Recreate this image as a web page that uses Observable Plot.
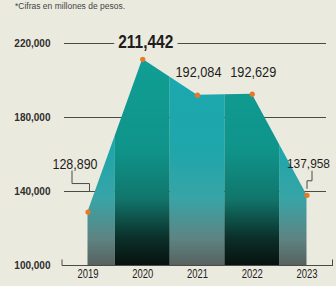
<!DOCTYPE html>
<html><head><meta charset="utf-8">
<script src="https://cdn.jsdelivr.net/npm/d3@7"></script>
<script src="https://cdn.jsdelivr.net/npm/@observablehq/plot@0.6"></script>
<style>
html,body{margin:0;padding:0;background:#ebeadf;}
#wrap{width:336px;height:286px;overflow:hidden;position:relative;}
#sub{height:12px;font:8.5px "Liberation Sans",Arial,sans-serif;color:#444;padding-left:15px;line-height:12px;white-space:nowrap;}
</style></head><body>
<div id="wrap"><div id="sub"></div><div id="chart"></div></div>
<script>
// ---- data ----
const years = [2019, 2020, 2021, 2022, 2023];
const values = [128890, 211442, 192084, 192629, 137958];
const valueLabels = ["128,890", "211,442", "192,084", "192,629", "137,958"];
const yTicks = [100000, 140000, 180000, 220000];
const subtitle = "*Cifras en millones de pesos.";

// ---- styling ----
const BG = "#ebeadf";
const FONT = '"Liberation Sans",Arial,sans-serif';
const labelStyle = {
  2019: {dx: -13, dy: -48, fontSize: 15, fontWeight: "normal", width: 45, anchor: "middle"},
  2020: {dx: 3, dy: -17, fontSize: 18, fontWeight: "bold", width: 55, anchor: "middle"},
  2021: {dx: 1, dy: -23, fontSize: 15, fontWeight: "normal", width: 46, anchor: "middle"},
  2022: {dx: 1, dy: -22, fontSize: 15, fontWeight: "normal", width: 46, anchor: "middle"},
  2023: {dx: 23, dy: -32, fontSize: 13.5, fontWeight: "normal", width: 43, anchor: "end"}
};

document.getElementById("sub").textContent = subtitle;
const rows = years.map((year, i) => ({year, value: values[i], label: valueLabels[i], i}));
const yMin = yTicks[0], yMax = yTicks[yTicks.length - 1];

const labelMarks = rows.map(r => Plot.text([r], {
  x: "year", y: "value", text: "label",
  dx: labelStyle[r.year].dx, dy: labelStyle[r.year].dy, textAnchor: labelStyle[r.year].anchor,
  fontSize: labelStyle[r.year].fontSize, fontWeight: labelStyle[r.year].fontWeight,
  fill: "#1d1d1b", fontFamily: FONT,
  stroke: r.year === 2020 ? BG : "none", strokeWidth: r.year === 2020 ? 12 : 0
}));

const chart = Plot.plot({
  width: 336, height: 274,
  marginTop: 31, marginBottom: 21, marginLeft: 64, marginRight: 10,
  style: {background: "transparent", fontFamily: FONT, color: "#333"},
  x: {domain: [years[0], years[years.length - 1]], insetLeft: 23.5, insetRight: 19.5},
  y: {domain: [yMin, yMax]},
  marks: [
    Plot.ruleY(yTicks.slice(1), {stroke: "#4a4a46", strokeWidth: 1}),
    Plot.ruleY([yMin], {stroke: "#4a4a46", strokeWidth: 1, insetLeft: -2, insetRight: -7}),
    Plot.rect(rows.filter(r => r.i % 2 === 0), {x1: d => d.year - 0.5, x2: d => d.year + 0.5, y1: yMin, y2: yMax, fill: "url(#gLight)"}),
    Plot.rect(rows.filter(r => r.i % 2 === 1), {x1: d => d.year - 0.5, x2: d => d.year + 0.5, y1: yMin, y2: yMax, fill: "url(#gDark)"}),
    Plot.areaY(rows, {x: "year", y1: yMin, y2: "value", fill: "#000", fillOpacity: 0}),
    Plot.dot(rows, {x: "year", y: "value", r: 2.6, fill: "#e8782a"}),
    Plot.axisY(yTicks, {tickSize: 0, tickPadding: 14, tickFormat: d3.format(","), fontSize: 10, fontWeight: "bold", fontFamily: FONT, fill: "#2e2e2c", label: null}),
    Plot.axisX(years, {tickSize: 0, tickPadding: 3, tickFormat: d => String(d), fontSize: 13.5, fontFamily: FONT, fill: "#222", label: null}),
    ...labelMarks
  ]
});
document.getElementById("chart").appendChild(chart);

const NS = "http://www.w3.org/2000/svg";
const svg = chart.tagName.toLowerCase() === "svg" ? chart : chart.querySelector("svg");
const defs = document.createElementNS(NS, "defs");
function grad(id, stops) {
  const g = document.createElementNS(NS, "linearGradient");
  g.setAttribute("id", id); g.setAttribute("x1", "0"); g.setAttribute("x2", "0"); g.setAttribute("y1", "0"); g.setAttribute("y2", "1");
  for (const [o, c] of stops) {
    const s = document.createElementNS(NS, "stop");
    s.setAttribute("offset", o); s.setAttribute("stop-color", c);
    g.appendChild(s);
  }
  defs.appendChild(g);
}
grad("gLight", [[0, "#1aa9b0"], [0.48, "#1ea6ab"], [0.7, "#38a4a6"], [0.88, "#5d8483"], [1, "#57625f"]]);
grad("gDark", [[0, "#11a096"], [0.48, "#0f948a"], [0.7, "#11766c"], [0.88, "#0b2f29"], [1, "#08120f"]]);
svg.insertBefore(defs, svg.firstChild);

const shapePath = svg.querySelector('g[aria-label="area"] path');
if (shapePath) {
  const clip = document.createElementNS(NS, "clipPath");
  clip.setAttribute("id", "areaClip");
  const cp = document.createElementNS(NS, "path");
  cp.setAttribute("d", shapePath.getAttribute("d"));
  const t = shapePath.parentNode.getAttribute("transform");
  if (t) cp.setAttribute("transform", t);
  clip.appendChild(cp);
  defs.appendChild(clip);
  svg.querySelectorAll('g[aria-label="rect"]').forEach(g => {
    const wrap = document.createElementNS(NS, "g");
    wrap.setAttribute("clip-path", "url(#areaClip)");
    g.parentNode.insertBefore(wrap, g);
    wrap.appendChild(g);
  });
}

// condense value labels and year labels
svg.querySelectorAll('g[aria-label="text"]').forEach((g, k) => {
  const t = g.querySelector("text");
  if (t) { t.setAttribute("textLength", labelStyle[years[k]].width); t.setAttribute("lengthAdjust", "spacingAndGlyphs"); }
});
svg.querySelectorAll('g[aria-label="x-axis tick label"] text').forEach(t => {
  t.setAttribute("textLength", 21); t.setAttribute("lengthAdjust", "spacingAndGlyphs");
});

// leader lines for edge labels + baseline end ticks
const sx = chart.scale("x"), sy = chart.scale("y");
function path(d) {
  const p = document.createElementNS(NS, "path");
  p.setAttribute("d", d); p.setAttribute("fill", "none");
  p.setAttribute("stroke", "#4a4a46"); p.setAttribute("stroke-width", "1");
  svg.appendChild(p);
}
{
  const x0 = sx.apply(years[0]), y0 = sy.apply(values[0]);
  path(`M${x0 - 15.5},${y0 - 41}V${y0 - 28}H${x0 + 2}V${y0 - 20}`);
  const x4 = sx.apply(years[4]), y4 = sy.apply(values[4]);
  path(`M${x4 + 5.5},${y4 - 24}V${y4 - 14}H${x4 + 0.5}V${y4 - 6}`);
  const yb = Math.round(sy.apply(yMin)) + 0.5;
  path(`M${sx.apply(years[0]) - 25.5},${yb - 6}V${yb}`);
  path(`M${336 - 3.5},${yb - 6}V${yb}`);
}
</script>
</body></html>
